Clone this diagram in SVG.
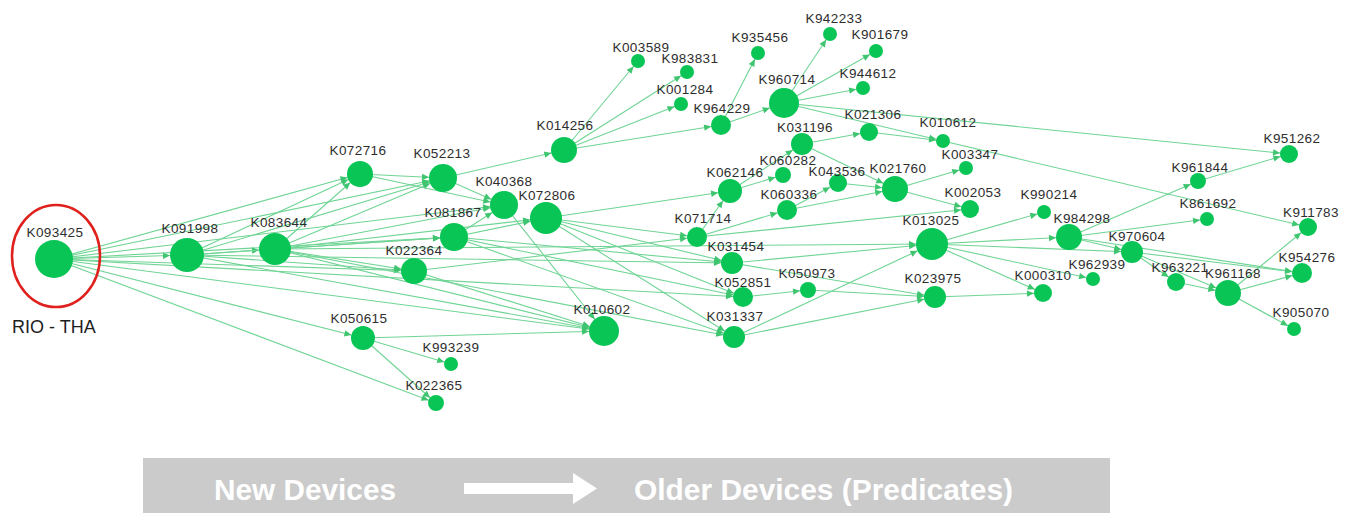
<svg xmlns="http://www.w3.org/2000/svg" width="1354" height="513" viewBox="0 0 1354 513">
<style>
.e{stroke:#6fd494;stroke-width:1.1;fill:none}
.n{fill:#08c555}
.l{font-family:"Liberation Sans",Arial,sans-serif;font-size:13.5px;letter-spacing:0.4px;fill:#2e2e2e;text-anchor:middle}
.ah{fill:#3fc46f}
.bt{font-family:"Liberation Sans",Arial,sans-serif;font-weight:bold;font-size:30px;fill:#ffffff}
</style>
<defs>
<marker id="a7" markerUnits="userSpaceOnUse" viewBox="-30 -10 30 20" markerWidth="30" markerHeight="20" refX="0" refY="0" orient="auto"><path class="ah" d="M-7,0L-14,-3.2L-14,3.2Z"/></marker>
<marker id="a8" markerUnits="userSpaceOnUse" viewBox="-30 -10 30 20" markerWidth="30" markerHeight="20" refX="0" refY="0" orient="auto"><path class="ah" d="M-8,0L-15,-3.2L-15,3.2Z"/></marker>
<marker id="a9" markerUnits="userSpaceOnUse" viewBox="-30 -10 30 20" markerWidth="30" markerHeight="20" refX="0" refY="0" orient="auto"><path class="ah" d="M-9,0L-16,-3.2L-16,3.2Z"/></marker>
<marker id="a10" markerUnits="userSpaceOnUse" viewBox="-30 -10 30 20" markerWidth="30" markerHeight="20" refX="0" refY="0" orient="auto"><path class="ah" d="M-10,0L-17,-3.2L-17,3.2Z"/></marker>
<marker id="a11" markerUnits="userSpaceOnUse" viewBox="-30 -10 30 20" markerWidth="30" markerHeight="20" refX="0" refY="0" orient="auto"><path class="ah" d="M-11,0L-18,-3.2L-18,3.2Z"/></marker>
<marker id="a12" markerUnits="userSpaceOnUse" viewBox="-30 -10 30 20" markerWidth="30" markerHeight="20" refX="0" refY="0" orient="auto"><path class="ah" d="M-12,0L-19,-3.2L-19,3.2Z"/></marker>
<marker id="a13" markerUnits="userSpaceOnUse" viewBox="-30 -10 30 20" markerWidth="30" markerHeight="20" refX="0" refY="0" orient="auto"><path class="ah" d="M-13,0L-20,-3.2L-20,3.2Z"/></marker>
<marker id="a14" markerUnits="userSpaceOnUse" viewBox="-30 -10 30 20" markerWidth="30" markerHeight="20" refX="0" refY="0" orient="auto"><path class="ah" d="M-14,0L-21,-3.2L-21,3.2Z"/></marker>
<marker id="a15" markerUnits="userSpaceOnUse" viewBox="-30 -10 30 20" markerWidth="30" markerHeight="20" refX="0" refY="0" orient="auto"><path class="ah" d="M-15,0L-22,-3.2L-22,3.2Z"/></marker>
<marker id="a16" markerUnits="userSpaceOnUse" viewBox="-30 -10 30 20" markerWidth="30" markerHeight="20" refX="0" refY="0" orient="auto"><path class="ah" d="M-16,0L-23,-3.2L-23,3.2Z"/></marker>
<marker id="a17" markerUnits="userSpaceOnUse" viewBox="-30 -10 30 20" markerWidth="30" markerHeight="20" refX="0" refY="0" orient="auto"><path class="ah" d="M-17,0L-24,-3.2L-24,3.2Z"/></marker>
</defs>
<rect width="1354" height="513" fill="#ffffff"/>
<g id="connectors">
<path class="e" d="M54 259L187 255" marker-end="url(#a17)"/>
<path class="e" d="M54 259L360 174" marker-end="url(#a13)"/>
<path class="e" d="M54 259L443 178" marker-end="url(#a14)"/>
<path class="e" d="M54 259L504 205" marker-end="url(#a14)"/>
<path class="e" d="M54 259L454 237" marker-end="url(#a14)"/>
<path class="e" d="M54 259L414 271" marker-end="url(#a13)"/>
<path class="e" d="M54 259L743 297" marker-end="url(#a10)"/>
<path class="e" d="M54 259L604 331" marker-end="url(#a15)"/>
<path class="e" d="M54 259L363 338" marker-end="url(#a12)"/>
<path class="e" d="M54 259L436 403" marker-end="url(#a8)"/>
<path class="e" d="M187 255L275 249" marker-end="url(#a16)"/>
<path class="e" d="M187 255L360 174" marker-end="url(#a13)"/>
<path class="e" d="M187 255L443 178" marker-end="url(#a14)"/>
<path class="e" d="M187 255L454 237" marker-end="url(#a14)"/>
<path class="e" d="M187 255L414 271" marker-end="url(#a13)"/>
<path class="e" d="M187 255L732 263" marker-end="url(#a11)"/>
<path class="e" d="M187 255L604 331" marker-end="url(#a15)"/>
<path class="e" d="M275 249L360 174" marker-end="url(#a13)"/>
<path class="e" d="M275 249L443 178" marker-end="url(#a14)"/>
<path class="e" d="M275 249L504 205" marker-end="url(#a14)"/>
<path class="e" d="M275 249L454 237" marker-end="url(#a14)"/>
<path class="e" d="M275 249L414 271" marker-end="url(#a13)"/>
<path class="e" d="M275 249L546 218" marker-end="url(#a16)"/>
<path class="e" d="M275 249L932 244" marker-end="url(#a16)"/>
<path class="e" d="M275 249L604 331" marker-end="url(#a15)"/>
<path class="e" d="M275 249L734 337" marker-end="url(#a11)"/>
<path class="e" d="M360 174L443 178" marker-end="url(#a14)"/>
<path class="e" d="M360 174L504 205" marker-end="url(#a14)"/>
<path class="e" d="M443 178L564 150" marker-end="url(#a13)"/>
<path class="e" d="M443 178L504 205" marker-end="url(#a14)"/>
<path class="e" d="M454 237L504 205" marker-end="url(#a14)"/>
<path class="e" d="M454 237L546 218" marker-end="url(#a16)"/>
<path class="e" d="M454 237L732 263" marker-end="url(#a11)"/>
<path class="e" d="M454 237L743 297" marker-end="url(#a10)"/>
<path class="e" d="M454 237L734 337" marker-end="url(#a11)"/>
<path class="e" d="M504 205L604 331" marker-end="url(#a15)"/>
<path class="e" d="M414 271L604 331" marker-end="url(#a15)"/>
<path class="e" d="M414 271L697 237" marker-end="url(#a10)"/>
<path class="e" d="M363 338L604 331" marker-end="url(#a15)"/>
<path class="e" d="M363 338L451 364" marker-end="url(#a7)"/>
<path class="e" d="M363 338L436 403" marker-end="url(#a8)"/>
<path class="e" d="M546 218L730 191" marker-end="url(#a12)"/>
<path class="e" d="M546 218L697 237" marker-end="url(#a10)"/>
<path class="e" d="M546 218L732 263" marker-end="url(#a11)"/>
<path class="e" d="M546 218L743 297" marker-end="url(#a10)"/>
<path class="e" d="M546 218L734 337" marker-end="url(#a11)"/>
<path class="e" d="M564 150L638 61" marker-end="url(#a7)"/>
<path class="e" d="M564 150L687 72" marker-end="url(#a7)"/>
<path class="e" d="M564 150L681 104" marker-end="url(#a7)"/>
<path class="e" d="M564 150L721 125" marker-end="url(#a10)"/>
<path class="e" d="M721 125L758 53" marker-end="url(#a7)"/>
<path class="e" d="M721 125L784 103" marker-end="url(#a15)"/>
<path class="e" d="M784 103L830 34" marker-end="url(#a7)"/>
<path class="e" d="M784 103L876 51" marker-end="url(#a7)"/>
<path class="e" d="M784 103L863 88" marker-end="url(#a7)"/>
<path class="e" d="M784 103L943 141" marker-end="url(#a7)"/>
<path class="e" d="M784 103L1289 154" marker-end="url(#a9)"/>
<path class="e" d="M802 144L869 132" marker-end="url(#a9)"/>
<path class="e" d="M802 144L895 189" marker-end="url(#a13)"/>
<path class="e" d="M869 132L943 141" marker-end="url(#a7)"/>
<path class="e" d="M943 141L1308 227" marker-end="url(#a9)"/>
<path class="e" d="M730 191L783 175" marker-end="url(#a8)"/>
<path class="e" d="M730 191L802 144" marker-end="url(#a11)"/>
<path class="e" d="M697 237L730 191" marker-end="url(#a12)"/>
<path class="e" d="M697 237L787 210" marker-end="url(#a10)"/>
<path class="e" d="M697 237L970 209" marker-end="url(#a9)"/>
<path class="e" d="M787 210L838 183" marker-end="url(#a9)"/>
<path class="e" d="M787 210L895 189" marker-end="url(#a13)"/>
<path class="e" d="M838 183L895 189" marker-end="url(#a13)"/>
<path class="e" d="M895 189L966 168" marker-end="url(#a7)"/>
<path class="e" d="M895 189L970 209" marker-end="url(#a9)"/>
<path class="e" d="M732 263L932 244" marker-end="url(#a16)"/>
<path class="e" d="M732 263L935 297" marker-end="url(#a11)"/>
<path class="e" d="M743 297L808 290" marker-end="url(#a8)"/>
<path class="e" d="M808 290L935 297" marker-end="url(#a11)"/>
<path class="e" d="M734 337L932 244" marker-end="url(#a16)"/>
<path class="e" d="M734 337L935 297" marker-end="url(#a11)"/>
<path class="e" d="M932 244L1044 212" marker-end="url(#a7)"/>
<path class="e" d="M932 244L1069 237" marker-end="url(#a13)"/>
<path class="e" d="M932 244L1043 293" marker-end="url(#a9)"/>
<path class="e" d="M932 244L1093 279" marker-end="url(#a7)"/>
<path class="e" d="M932 244L1132 252" marker-end="url(#a11)"/>
<path class="e" d="M935 297L1043 293" marker-end="url(#a9)"/>
<path class="e" d="M1069 237L1198 181" marker-end="url(#a8)"/>
<path class="e" d="M1069 237L1207 219" marker-end="url(#a7)"/>
<path class="e" d="M1069 237L1132 252" marker-end="url(#a11)"/>
<path class="e" d="M1069 237L1302 273" marker-end="url(#a10)"/>
<path class="e" d="M1132 252L1176 282" marker-end="url(#a9)"/>
<path class="e" d="M1132 252L1228 293" marker-end="url(#a13)"/>
<path class="e" d="M1132 252L1302 273" marker-end="url(#a10)"/>
<path class="e" d="M1176 282L1228 293" marker-end="url(#a13)"/>
<path class="e" d="M1228 293L1308 227" marker-end="url(#a9)"/>
<path class="e" d="M1228 293L1302 273" marker-end="url(#a10)"/>
<path class="e" d="M1228 293L1294 329" marker-end="url(#a7)"/>
<path class="e" d="M1198 181L1289 154" marker-end="url(#a9)"/>
</g>
<g id="K093425"><circle class="n" cx="54" cy="259" r="19"/><text class="l" x="55" y="237">K093425</text><ellipse cx="56" cy="256" rx="44" ry="51" fill="none" stroke="#e0201c" stroke-width="2.5"/><text x="12" y="333" font-family="'Liberation Sans',Arial,sans-serif" font-size="18" fill="#1e1e1e">RIO - THA</text></g>
<g id="K091998"><circle class="n" cx="187" cy="255" r="17"/><text class="l" x="190" y="233">K091998</text></g>
<g id="K083644"><circle class="n" cx="275" cy="249" r="16"/><text class="l" x="279" y="227">K083644</text></g>
<g id="K072716"><circle class="n" cx="360" cy="174" r="13"/><text class="l" x="358" y="155">K072716</text></g>
<g id="K052213"><circle class="n" cx="443" cy="178" r="14"/><text class="l" x="442" y="158">K052213</text></g>
<g id="K040368"><circle class="n" cx="504" cy="205" r="14"/><text class="l" x="504" y="186">K040368</text></g>
<g id="K072806"><circle class="n" cx="546" cy="218" r="16"/><text class="l" x="547" y="200">K072806</text></g>
<g id="K081867"><circle class="n" cx="454" cy="237" r="14"/><text class="l" x="453" y="217">K081867</text></g>
<g id="K022364"><circle class="n" cx="414" cy="271" r="13"/><text class="l" x="414" y="255">K022364</text></g>
<g id="K050615"><circle class="n" cx="363" cy="338" r="12"/><text class="l" x="359" y="323">K050615</text></g>
<g id="K993239"><circle class="n" cx="451" cy="364" r="7"/><text class="l" x="451" y="352">K993239</text></g>
<g id="K022365"><circle class="n" cx="436" cy="403" r="8"/><text class="l" x="434" y="390">K022365</text></g>
<g id="K010602"><circle class="n" cx="604" cy="331" r="15"/><text class="l" x="602" y="314">K010602</text></g>
<g id="K014256"><circle class="n" cx="564" cy="150" r="13"/><text class="l" x="565" y="130">K014256</text></g>
<g id="K003589"><circle class="n" cx="638" cy="61" r="7"/><text class="l" x="641" y="52">K003589</text></g>
<g id="K983831"><circle class="n" cx="687" cy="72" r="7"/><text class="l" x="690" y="63">K983831</text></g>
<g id="K001284"><circle class="n" cx="681" cy="104" r="7"/><text class="l" x="685" y="94">K001284</text></g>
<g id="K964229"><circle class="n" cx="721" cy="125" r="10"/><text class="l" x="722" y="113">K964229</text></g>
<g id="K935456"><circle class="n" cx="758" cy="53" r="7"/><text class="l" x="760" y="42">K935456</text></g>
<g id="K942233"><circle class="n" cx="830" cy="34" r="7"/><text class="l" x="834" y="23">K942233</text></g>
<g id="K901679"><circle class="n" cx="876" cy="51" r="7"/><text class="l" x="880" y="39">K901679</text></g>
<g id="K944612"><circle class="n" cx="863" cy="88" r="7"/><text class="l" x="868" y="78">K944612</text></g>
<g id="K960714"><circle class="n" cx="784" cy="103" r="15"/><text class="l" x="787" y="84">K960714</text></g>
<g id="K021306"><circle class="n" cx="869" cy="132" r="9"/><text class="l" x="873" y="119">K021306</text></g>
<g id="K010612"><circle class="n" cx="943" cy="141" r="7"/><text class="l" x="948" y="127">K010612</text></g>
<g id="K031196"><circle class="n" cx="802" cy="144" r="11"/><text class="l" x="805" y="132">K031196</text></g>
<g id="K060282"><circle class="n" cx="783" cy="175" r="8"/><text class="l" x="788" y="165">K060282</text></g>
<g id="K062146"><circle class="n" cx="730" cy="191" r="12"/><text class="l" x="735" y="177">K062146</text></g>
<g id="K043536"><circle class="n" cx="838" cy="183" r="9"/><text class="l" x="837" y="176">K043536</text></g>
<g id="K021760"><circle class="n" cx="895" cy="189" r="13"/><text class="l" x="898" y="173">K021760</text></g>
<g id="K003347"><circle class="n" cx="966" cy="168" r="7"/><text class="l" x="970" y="159">K003347</text></g>
<g id="K002053"><circle class="n" cx="970" cy="209" r="9"/><text class="l" x="973" y="197">K002053</text></g>
<g id="K060336"><circle class="n" cx="787" cy="210" r="10"/><text class="l" x="789" y="199">K060336</text></g>
<g id="K071714"><circle class="n" cx="697" cy="237" r="10"/><text class="l" x="703" y="223">K071714</text></g>
<g id="K031454"><circle class="n" cx="732" cy="263" r="11"/><text class="l" x="736" y="251">K031454</text></g>
<g id="K052851"><circle class="n" cx="743" cy="297" r="10"/><text class="l" x="743" y="287">K052851</text></g>
<g id="K050973"><circle class="n" cx="808" cy="290" r="8"/><text class="l" x="807" y="278">K050973</text></g>
<g id="K031337"><circle class="n" cx="734" cy="337" r="11"/><text class="l" x="735" y="321">K031337</text></g>
<g id="K013025"><circle class="n" cx="932" cy="244" r="16"/><text class="l" x="931" y="225">K013025</text></g>
<g id="K023975"><circle class="n" cx="935" cy="297" r="11"/><text class="l" x="933" y="283">K023975</text></g>
<g id="K990214"><circle class="n" cx="1044" cy="212" r="7"/><text class="l" x="1049" y="199">K990214</text></g>
<g id="K984298"><circle class="n" cx="1069" cy="237" r="13"/><text class="l" x="1082" y="223">K984298</text></g>
<g id="K000310"><circle class="n" cx="1043" cy="293" r="9"/><text class="l" x="1043" y="280">K000310</text></g>
<g id="K962939"><circle class="n" cx="1093" cy="279" r="7"/><text class="l" x="1097" y="269">K962939</text></g>
<g id="K970604"><circle class="n" cx="1132" cy="252" r="11"/><text class="l" x="1137" y="241">K970604</text></g>
<g id="K963221"><circle class="n" cx="1176" cy="282" r="9"/><text class="l" x="1180" y="272">K963221</text></g>
<g id="K961168"><circle class="n" cx="1228" cy="293" r="13"/><text class="l" x="1233" y="278">K961168</text></g>
<g id="K961844"><circle class="n" cx="1198" cy="181" r="8"/><text class="l" x="1200" y="172">K961844</text></g>
<g id="K861692"><circle class="n" cx="1207" cy="219" r="7"/><text class="l" x="1208" y="208">K861692</text></g>
<g id="K951262"><circle class="n" cx="1289" cy="154" r="9"/><text class="l" x="1292" y="143">K951262</text></g>
<g id="K911783"><circle class="n" cx="1308" cy="227" r="9"/><text class="l" x="1311" y="217">K911783</text></g>
<g id="K954276"><circle class="n" cx="1302" cy="273" r="10"/><text class="l" x="1307" y="262">K954276</text></g>
<g id="K905070"><circle class="n" cx="1294" cy="329" r="7"/><text class="l" x="1301" y="317">K905070</text></g>
<g id="legend">
<rect x="143" y="458" width="967" height="55" fill="#cbcbcb"/>
<text class="bt" x="214" y="500" textLength="182" lengthAdjust="spacingAndGlyphs">New Devices</text>
<polygon points="464,483 573,483 573,473 597,488.5 573,504 573,494 464,494" fill="#ffffff"/>
<text class="bt" x="634" y="500" textLength="379" lengthAdjust="spacingAndGlyphs">Older Devices (Predicates)</text>
</g>
</svg>
